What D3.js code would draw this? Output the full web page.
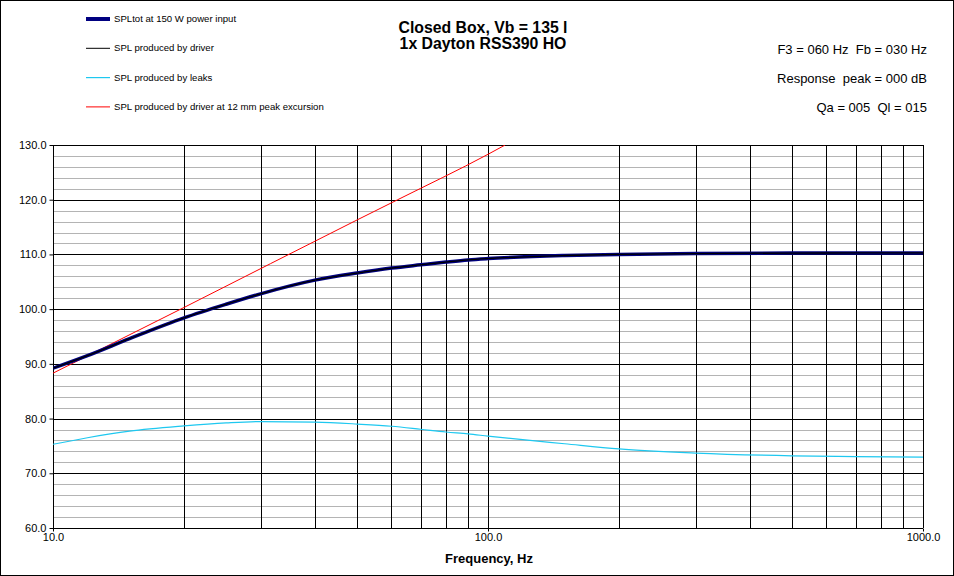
<!DOCTYPE html>
<html><head><meta charset="utf-8">
<script src="https://cdn.jsdelivr.net/npm/d3@7"></script>
<style>body{margin:0;background:#fff}svg{display:block;font-family:"Liberation Sans",Arial,sans-serif}text{white-space:pre}</style>
</head><body>
<svg id="c" width="954" height="576"></svg>
<script>
// Data
const freqs  = [10, 12, 15, 20, 25, 30, 40, 50, 60, 70, 80, 90, 100, 150, 200, 300, 500, 700, 1000];
const splTot = [89.2, 91.5, 94.6, 98.4, 100.9, 102.8, 105.3, 106.6, 107.5, 108.1, 108.6, 109.0, 109.25, 109.8, 110.0, 110.15, 110.25, 110.27, 110.28];
const splDrv = [89.2, 91.5, 94.6, 98.4, 100.9, 102.8, 105.3, 106.6, 107.5, 108.1, 108.6, 109.0, 109.25, 109.8, 110.0, 110.15, 110.25, 110.27, 110.28];
const splLeak= [75.3, 76.5, 77.7, 78.65, 79.2, 79.45, 79.35, 79.0, 78.6, 78.05, 77.55, 77.2, 76.8, 75.4, 74.45, 73.7, 73.2, 73.05, 72.95];
const exFreqs = [10, 20, 50, 62, 100, 109.5];
const splExc  = [88.3, 100.3, 116.3, 120.0, 128.3, 130.0];
const yTicks = [60, 70, 80, 90, 100, 110, 120, 130];
const xTicks = [10, 100, 1000];
const xGrid = [20,30,40,50,60,70,80,90,200,300,400,500,600,700,800,900];
const legendLabels = ["SPLtot at 150 W power input","SPL produced by driver","SPL produced by leaks","SPL produced by driver at 12 mm peak excursion"];
const titleLines = ["Closed Box, Vb = 135 l","1x Dayton RSS390 HO"];
const infoLines = ["F3 = 060 Hz  Fb = 030 Hz","Response  peak = 000 dB","Qa = 005  Ql = 015"];

const svg = d3.select("#c");
svg.append("rect").attr("x",0.5).attr("y",0.5).attr("width",953).attr("height",575).attr("fill","#fff").attr("stroke","#000");

const L=53, R=923, T=145, B=528;
const x = d3.scaleLog().domain([10,1000]).range([L,R]);
const y = d3.scaleLinear().domain([60,130]).range([B,T]);

const g = svg.append("g");
g.selectAll(".mh").data(d3.range(62,130,2).filter(v=>v%10!==0)).join("line")
  .attr("x1",L).attr("x2",R).attr("y1",d=>Math.round(y(d))+0.5).attr("y2",d=>Math.round(y(d))+0.5)
  .attr("stroke","#b4b4b4").attr("stroke-width",1);
g.selectAll(".Mh").data(yTicks).join("line")
  .attr("x1",L).attr("x2",R).attr("y1",d=>Math.round(y(d))+0.5).attr("y2",d=>Math.round(y(d))+0.5)
  .attr("stroke","#000").attr("stroke-width",1);
g.selectAll(".vg").data(xGrid.concat(xTicks)).join("line")
  .attr("y1",T).attr("y2",B).attr("x1",d=>Math.round(x(d))+0.5).attr("x2",d=>Math.round(x(d))+0.5)
  .attr("stroke","#000").attr("stroke-width",1);

const yAx = svg.append("g").attr("transform",`translate(${L+0.5},0)`)
  .call(d3.axisLeft(y).tickValues(yTicks).tickSize(4).tickPadding(3).tickFormat(d3.format(".1f")));
const xAx = svg.append("g").attr("transform",`translate(0,${B+0.5})`)
  .call(d3.axisBottom(x).tickValues(xTicks).tickSize(3).tickPadding(2).tickFormat(d3.format(".1f")));
[yAx,xAx].forEach(a=>{a.select(".domain").remove();a.selectAll("line").attr("stroke","#000");
  a.selectAll("text").attr("font-size",11).attr("fill","#000").attr("font-family","Liberation Sans, Arial");});

svg.append("clipPath").attr("id","clp").append("rect").attr("x",L).attr("y",T).attr("width",R-L).attr("height",B-T);
const line = d3.line().x(d=>x(d[0])).y(d=>y(d[1])).curve(d3.curveMonotoneX);
const plot = svg.append("g").attr("clip-path","url(#clp)");
plot.append("path").attr("d",line(freqs.map((f,i)=>[f,splLeak[i]]))).attr("fill","none").attr("stroke","#1ec8f0").attr("stroke-width",1.2);
plot.append("path").attr("d",line(exFreqs.map((f,i)=>[f,splExc[i]]))).attr("fill","none").attr("stroke","#ff0000").attr("stroke-width",1);
plot.append("path").attr("d",line(freqs.map((f,i)=>[f,splTot[i]]))).attr("fill","none").attr("stroke","#000080").attr("stroke-width",3.5);
plot.append("path").attr("d",line(freqs.map((f,i)=>[f,splDrv[i]]))).attr("fill","none").attr("stroke","#000").attr("stroke-width",1.3);

svg.append("text").attr("x",(L+R)/2+1).attr("y",563).attr("text-anchor","middle").attr("font-weight","bold").attr("font-size",13).text("Frequency, Hz");

const lc = ["#000080","#000","#1ec8f0","#ff0000"], lw=[4,1,1.2,1];
legendLabels.forEach((t,i)=>{
  const yy = 19 + i*29.3;
  svg.append("line").attr("x1",86).attr("x2",110).attr("y1",yy).attr("y2",yy).attr("stroke",lc[i]).attr("stroke-width",lw[i]);
  svg.append("text").attr("x",114).attr("y",yy+3).attr("font-size",9.6).text(t);
});
titleLines.forEach((t,i)=>svg.append("text").attr("x",483).attr("y",33+i*16).attr("text-anchor","middle").attr("font-weight","bold").attr("font-size",15.8).text(t));
infoLines.forEach((t,i)=>svg.append("text").attr("x",927).attr("y",54+i*29).attr("text-anchor","end").attr("font-size",13).text(t));
</script>
</body></html>
